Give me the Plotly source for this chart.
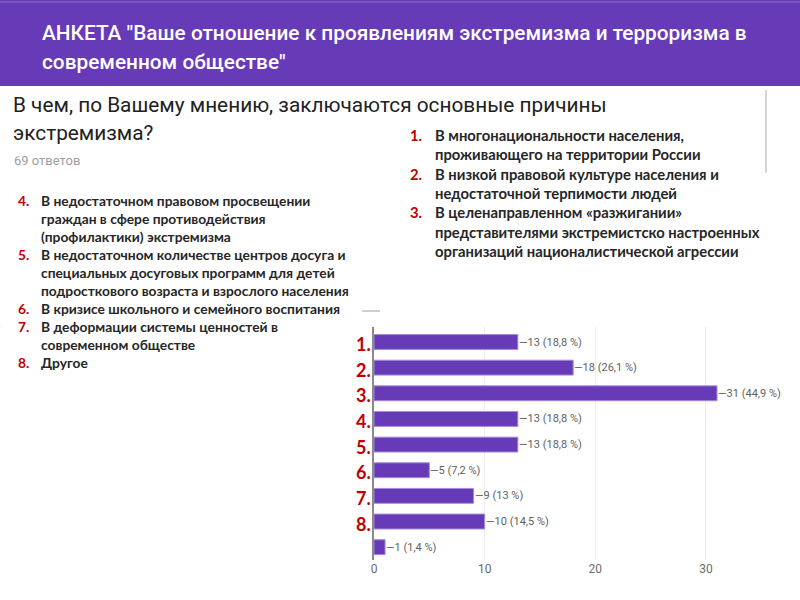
import plotly.graph_objects as go

# ---- data ----
categories = ["c1", "c2", "c3", "c4", "c5", "c6", "c7", "c8", "c9"]
tick_labels = ["1.", "2.", "3.", "4.", "5.", "6.", "7.", "8.", ""]
counts = [13, 18, 31, 13, 13, 5, 9, 10, 1]
percents = ["18,8", "26,1", "44,9", "18,8", "18,8", "7,2", "13", "14,5", "1,4"]
x_ticks = [0, 10, 20, 30]

header_lines = ['АНКЕТА "Ваше отношение к проявлениям экстремизма и терроризма в',
                'современном обществе"']
question_lines = ["В чем, по Вашему мнению, заключаются основные причины",
                  "экстремизма?"]
responses_text = "69 ответов"

right_list = [("1.", ["В многонациональности населения,",
                      "проживающего на территории России"]),
              ("2.", ["В низкой правовой культуре населения и",
                      "недостаточной терпимости людей"]),
              ("3.", ["В целенаправленном «разжигании»",
                      "представителями экстремистско настроенных",
                      "организаций националистической агрессии"])]
left_list = [("4.", ["В недостаточном правовом просвещении",
                     "граждан в сфере противодействия",
                     "(профилактики) экстремизма"]),
             ("5.", ["В недостаточном количестве центров досуга и",
                     "специальных досуговых программ для детей",
                     "подросткового возраста и взрослого населения"]),
             ("6.", ["В кризисе школьного и семейного воспитания"]),
             ("7.", ["В деформации системы ценностей в",
                     "современном обществе"]),
             ("8.", ["Другое"])]

# ---- layout geometry (pixels) ----
W, H = 800, 600
L, R, T, B = 374, 800, 327, 560
PURPLE = "#673ab7"
RED = "#c00000"


def xp(px):
    return (px - L) / (R - L)


def yp(py):
    return (B - py) / (B - T)


fig = go.Figure()
fig.add_trace(go.Bar(
    x=counts, y=categories, orientation="h", width=0.58,
    marker=dict(color=PURPLE, line=dict(color="#a58bd8", width=1)),
    hoverinfo="skip",
))

annotations = []
# value labels
for c, v, p in zip(categories, counts, percents):
    annotations.append(dict(x=v, y=c, xref="x", yref="y", text=f"—{v} ({p} %)",
                            showarrow=False, xanchor="left", yanchor="middle", xshift=-1,
                            font=dict(family="Roboto", size=11, color="#5f5f5f")))
# red category labels
for c, t in zip(categories, tick_labels):
    if t:
        annotations.append(dict(x=0, y=c, xref="paper", yref="y", text=t, showarrow=False,
                                xanchor="right", yanchor="middle", xshift=-1, yshift=-2,
                                font=dict(family="Lato", size=18, color=RED, weight="bold")))

# header
for i, line in enumerate(header_lines):
    annotations.append(dict(x=xp(40), y=yp(33 + 29 * i), xref="paper", yref="paper", text=line,
                            showarrow=False, xanchor="left", yanchor="middle",
                            font=dict(family="Roboto", size=20.8, color="white", weight=500)))
# question
for i, line in enumerate(question_lines):
    annotations.append(dict(x=xp(11), y=yp(105 + 28 * i), xref="paper", yref="paper", text=line,
                            showarrow=False, xanchor="left", yanchor="middle",
                            font=dict(family="Roboto", size=20.8, color="#212121")))
annotations.append(dict(x=xp(12), y=yp(160), xref="paper", yref="paper", text=responses_text,
                        showarrow=False, xanchor="left", yanchor="middle",
                        font=dict(family="Roboto", size=13, color="#9e9e9e")))


def add_list(items, num_x, text_x, y0, step, size):
    y = y0
    for num, lines in items:
        annotations.append(dict(x=xp(num_x), y=yp(y), xref="paper", yref="paper", text=num,
                                showarrow=False, xanchor="left", yanchor="middle",
                                font=dict(family="Lato", size=size, color=RED, weight="bold")))
        for line in lines:
            annotations.append(dict(x=xp(text_x), y=yp(y), xref="paper", yref="paper", text=line,
                                    showarrow=False, xanchor="left", yanchor="middle",
                                    font=dict(family="Lato", size=size, color="#262626", weight="bold")))
            y += step


add_list(right_list, 408, 433, 135, 19.3, 14.8)
add_list(left_list, 16, 39, 200, 18.1, 13.8)

shapes = [
    dict(type="rect", xref="paper", yref="paper", x0=xp(0), x1=xp(800), y0=yp(0), y1=yp(86),
         fillcolor=PURPLE, line=dict(width=0), layer="below"),
    dict(type="line", xref="paper", yref="paper", x0=xp(0), x1=xp(800), y0=yp(2), y1=yp(2),
         line=dict(color="#8b6cc9", width=1)),
    dict(type="line", xref="paper", yref="paper", x0=xp(766), x1=xp(766), y0=yp(90), y1=yp(173),
         line=dict(color="#d6d6d6", width=2)),
    dict(type="line", xref="paper", yref="paper", x0=xp(0), x1=xp(1), y0=1, y1=1,
         line=dict(color="#eeeeee", width=1)),
    dict(type="line", xref="paper", yref="paper", x0=xp(362), x1=xp(380), y0=yp(311), y1=yp(311),
         line=dict(color="#9e9e9e", width=1)),
]

fig.update_layout(
    width=W, height=H, autosize=False,
    margin=dict(l=L, r=W - R, t=T, b=H - B),
    paper_bgcolor="white", plot_bgcolor="white",
    showlegend=False, bargap=0.4,
    annotations=annotations, shapes=shapes,
    xaxis=dict(range=[0, 38.5], tickvals=x_ticks, ticktext=[str(t) for t in x_ticks],
               showgrid=True, gridcolor="#ebebeb", gridwidth=1, zeroline=False,
               showline=False, ticks="",
               tickfont=dict(family="Roboto", size=12, color="#6b6b6b")),
    yaxis=dict(type="category", categoryorder="array", categoryarray=categories,
               autorange="reversed",
               showticklabels=False, showgrid=False, zeroline=False,
               showline=True, linecolor="#8a8a8a", linewidth=2, ticks=""),
)

fig.write_html("out.html", config={"displayModeBar": False},
               post_script="document.body.style.margin='0';")
